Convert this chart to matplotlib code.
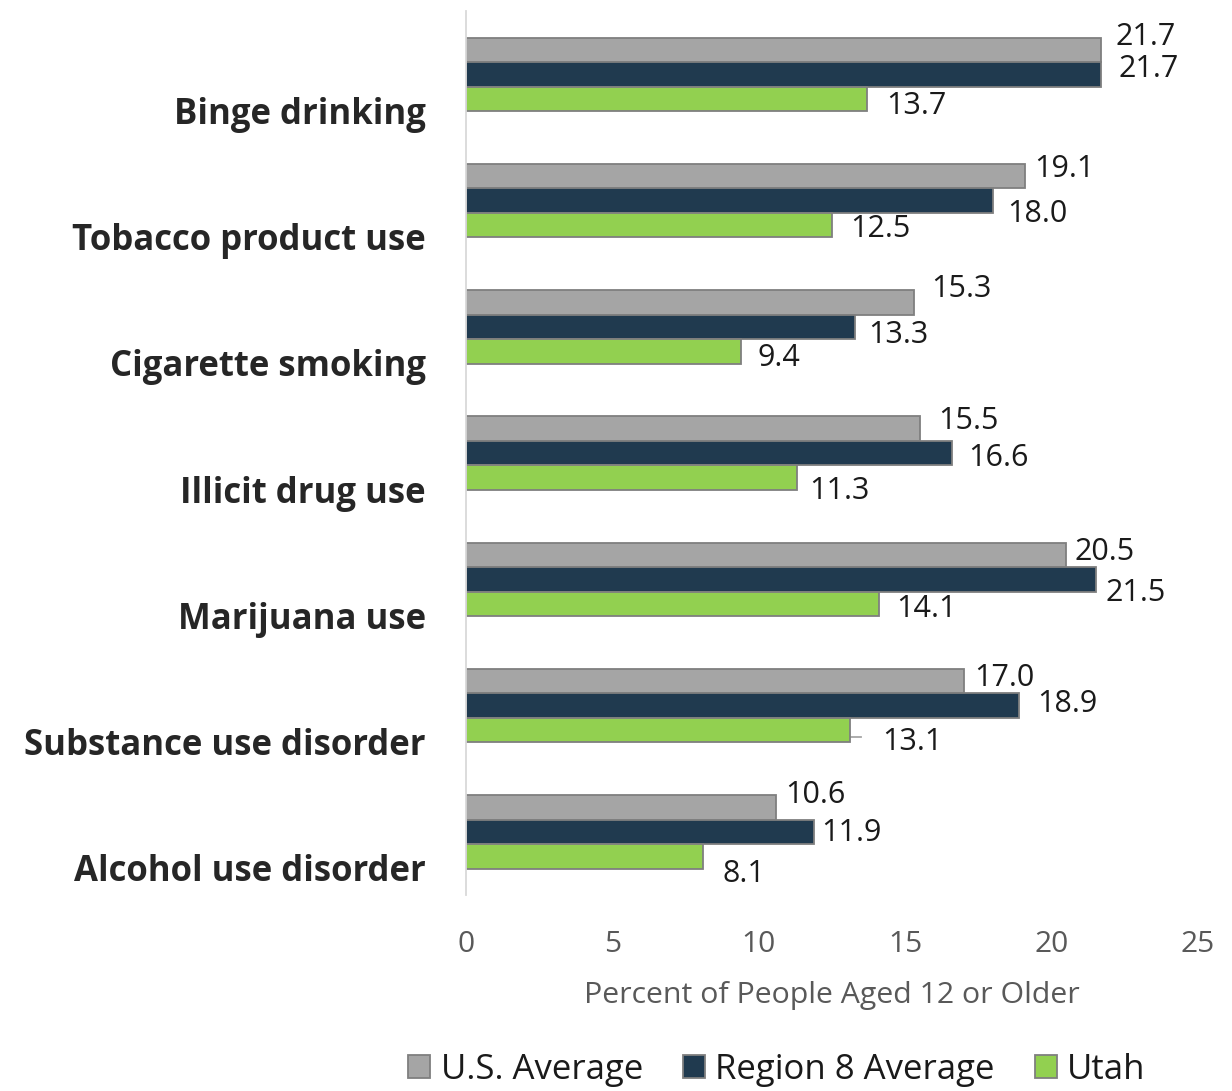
import matplotlib
matplotlib.use("Agg")
import matplotlib.pyplot as plt
from matplotlib.patches import Patch
from matplotlib.transforms import ScaledTranslation

# --- data -------------------------------------------------------------
categories = [
    "Binge drinking",
    "Tobacco product use",
    "Cigarette smoking",
    "Illicit drug use",
    "Marijuana use",
    "Substance use disorder",
    "Alcohol use disorder",
]
series_names = ["U.S. Average", "Region 8 Average", "Utah"]
us_avg = [21.7, 19.1, 15.3, 15.5, 20.5, 17.0, 10.6]
region8_avg = [21.7, 18.0, 13.3, 16.6, 21.5, 18.9, 11.9]
utah = [13.7, 12.5, 9.4, 11.3, 14.1, 13.1, 8.1]
x_ticks = [0, 5, 10, 15, 20, 25]
x_label = "Percent of People Aged 12 or Older"

# --- style ------------------------------------------------------------
colors = ["#A5A5A5", "#203A4F", "#92D050"]
edge = "#7F7F7F"
FONT = "Open Sans"
plt.rcParams["font.family"] = [FONT, "DejaVu Sans"]

# value-label nudges in pixels (dx right of bar end, dy below bar centre)
label_nudge = [
    [(14, -16), (9, -10), (17, -16), (18, -11), (8, -6), (10, -6), (9, -15)],
    [(17, -8), (14, 10), (13, 5), (16, 2), (10, 11), (18, -5), (7, -2)],
    [(19, 4), (18, 1), (16, 4), (12, 10), (17, 2), (33, 9), (19, 15)],
]

W, H, DPI = 1232, 1091, 100
fig = plt.figure(figsize=(W / DPI, H / DPI), dpi=DPI)
ax = fig.add_axes([466 / W, 1 - 895 / H, 732 / W, (895 - 11.3) / H])

bar_h = 0.194
ypos = list(range(len(categories)))
all_series = [us_avg, region8_avg, utah]
for k, vals in enumerate(all_series):
    offs = (k - 1) * bar_h
    ax.barh([y + offs for y in ypos], vals, height=bar_h, color=colors[k],
            edgecolor=edge, linewidth=1.3, zorder=2)

ax.set_xlim(0, 25)
ax.set_ylim(len(categories) - 0.5, -0.5)

# value labels
px_per_unit = 732 / 25
for k, vals in enumerate(all_series):
    offs = (k - 1) * bar_h
    for i, v in enumerate(vals):
        dx, dy = label_nudge[k][i]
        ax.annotate(f"{v:.1f}", xy=(v, i + offs), xytext=(dx, -(dy + 11)),
                    textcoords="offset pixels", ha="left", va="baseline",
                    fontsize=22, color="#1A1A1A", zorder=3)
        if dx > 25:
            # leader line for a label pushed away from its bar
            ax.plot([v, v + 11 / px_per_unit],
                    [i + offs + (dy - 2) / 126.3] * 2,
                    color="#A6A6A6", lw=1.3, zorder=1, clip_on=False)

# axes styling
for s in ["top", "right", "bottom"]:
    ax.spines[s].set_visible(False)
ax.spines["left"].set_color("#D9D9D9")
ax.spines["left"].set_linewidth(1.3)

ax.set_xticks(x_ticks)
ax.set_xticklabels([str(t) for t in x_ticks])
ax.tick_params(axis="x", length=0, pad=25, labelsize=21.5, labelcolor="#595959")
ax.set_yticks(ypos)
ax.set_yticklabels(categories, fontsize=25, fontweight="bold", color="#262626")
ax.tick_params(axis="y", length=0, pad=29)
shift = ScaledTranslation(0, -36 / DPI, fig.dpi_scale_trans)
for lab in ax.get_yticklabels():
    lab.set_transform(lab.get_transform() + shift)

ax.set_xlabel(x_label, fontsize=21.8, color="#595959", labelpad=16)

handles = [Patch(facecolor=c, edgecolor=edge, linewidth=1.3) for c in colors]
fig.legend(handles, series_names, loc="center", ncol=3, frameon=False,
           bbox_to_anchor=(777 / W, 1 - 1070 / H), fontsize=25,
           handlelength=0.63, handleheight=0.63, handletextpad=0.3,
           columnspacing=1.15, labelcolor="#1A1A1A")

fig.savefig("out.png", dpi=DPI)
